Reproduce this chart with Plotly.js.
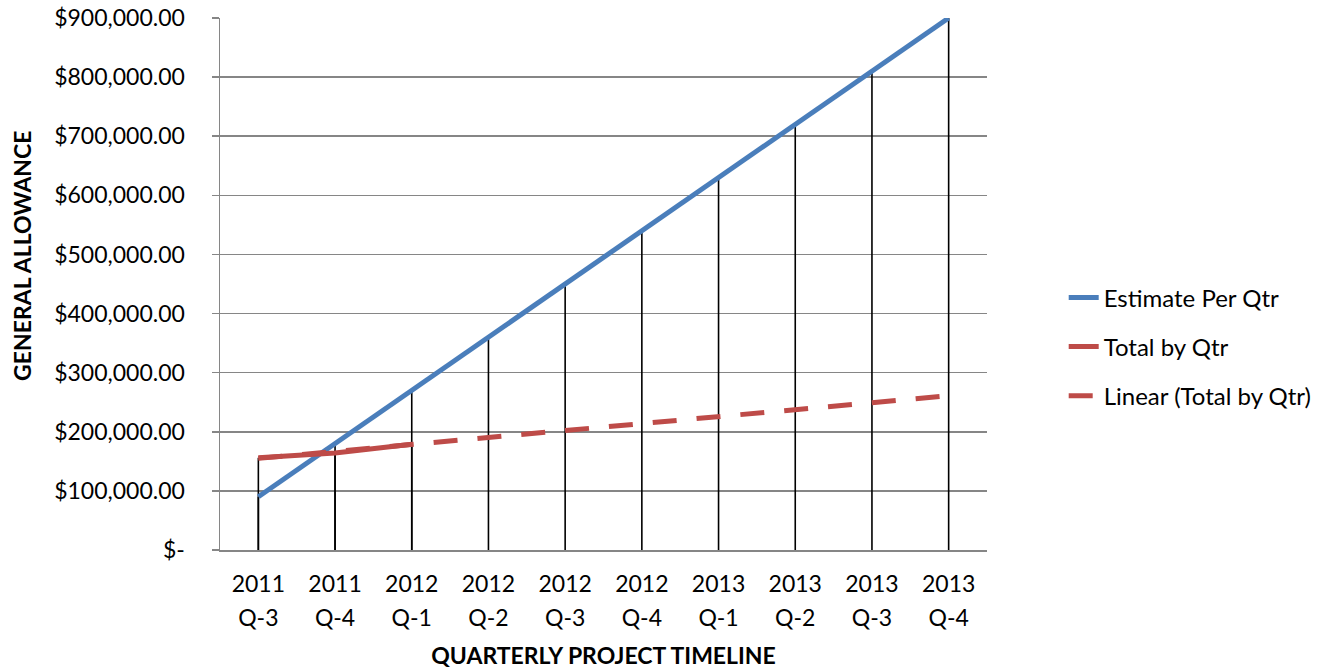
<!DOCTYPE html>
<html>
<head>
<meta charset="utf-8">
<script src="https://cdn.plot.ly/plotly-3.0.1.min.js"></script>
<style>html,body{margin:0;padding:0;background:#fff}#chart{width:1337px;height:671px}</style>
</head>
<body>
<div id="chart"></div>
<script>
// ---- data ----
var categories = ['2011 Q-3','2011 Q-4','2012 Q-1','2012 Q-2','2012 Q-3','2012 Q-4','2013 Q-1','2013 Q-2','2013 Q-3','2013 Q-4'];
var yearLabels = ['2011','2011','2012','2012','2012','2012','2013','2013','2013','2013'];
var quarterLabels = ['Q-3','Q-4','Q-1','Q-2','Q-3','Q-4','Q-1','Q-2','Q-3','Q-4'];
var estimatePerQtr = [90000,180000,270000,360000,450000,540000,630000,720000,810000,900000];
var totalCategories = ['2011 Q-3','2011 Q-4','2012 Q-1'];
var totalByQtr = [156000,164000,179000];
var trendCategories = ['2011 Q-3','2013 Q-4'];
var trendValues = [155000,261000];
var yTickVals = [0,100000,200000,300000,400000,500000,600000,700000,800000,900000];
var yTickText = ['$-','$100,000.00','$200,000.00','$300,000.00','$400,000.00','$500,000.00','$600,000.00','$700,000.00','$800,000.00','$900,000.00'];

var FONT = 'Lato, "Open Sans", sans-serif';
var zeros = function(a){ return a.map(function(){return 0;}); };

function dropTrace(xs, ys){
  return {
    x: xs, y: ys, xaxis:'x', yaxis:'y', type:'scatter', mode:'markers',
    marker:{size:1, opacity:0}, showlegend:false, hoverinfo:'skip',
    error_y:{type:'data', symmetric:false, array:zeros(ys), arrayminus:ys, width:0, color:'#000000', thickness:1.6}
  };
}

var traces = [
  dropTrace(categories, estimatePerQtr),
  dropTrace(totalCategories, totalByQtr),
  {
    x: categories, y: estimatePerQtr, xaxis:'x2', yaxis:'y', type:'scatter', mode:'lines',
    name:'Estimate Per Qtr', legendgroup:'a',
    line:{color:'#4A7EBB', width:5}
  },
  {
    x: totalCategories, y: totalByQtr, xaxis:'x2', yaxis:'y', type:'scatter', mode:'lines',
    name:'Total by Qtr', legendgroup:'b',
    line:{color:'#BE4B48', width:5}
  },
  {
    x: trendCategories, y: trendValues, xaxis:'x2', yaxis:'y', type:'scatter', mode:'lines',
    name:'Linear (Total by Qtr)', legendgroup:'c',
    line:{color:'#BE4B48', width:5, dash:'24px,20px'}
  }
];

var layout = {
  width:1337, height:671,
  margin:{l:220, r:350, t:18, b:121, autoexpand:false},
  paper_bgcolor:'#ffffff', plot_bgcolor:'#ffffff',
  font:{family:FONT, size:23, color:'#000000'},
  hovermode:false,
  showlegend:true,
  legend:{x:1.1, xanchor:'left', y:0.382, yanchor:'middle', traceorder:'grouped', tracegroupgap:15,
          font:{family:FONT, size:24, color:'#000'}, bgcolor:'rgba(0,0,0,0)'},
  xaxis:{
    type:'category', categoryorder:'array', categoryarray:categories,
    range:[-0.5, 9.5], tickmode:'array', tickvals:categories, ticktext:yearLabels,
    showgrid:false, zeroline:false, showline:true, linecolor:'#868686', linewidth:1.5,
    ticks:'', ticklabelstandoff:13, tickfont:{family:FONT, size:23, color:'#000'},
    title:{text:'QUARTERLY PROJECT TIMELINE', font:{family:FONT, size:23, color:'#000', weight:'bold'}, standoff:52},
    automargin:false, fixedrange:true
  },
  xaxis2:{
    type:'category', categoryorder:'array', categoryarray:categories,
    overlaying:'x', matches:'x', anchor:'y', side:'bottom',
    range:[-0.5, 9.5], tickmode:'array', tickvals:categories, ticktext:quarterLabels,
    showgrid:false, zeroline:false, showline:false, ticks:'', ticklabelstandoff:52,
    tickfont:{family:FONT, size:23, color:'#000'}, automargin:false, fixedrange:true
  },
  yaxis:{
    range:[0, 900000], tickmode:'array', tickvals:yTickVals, ticktext:yTickText,
    showgrid:true, gridcolor:'#868686', gridwidth:1.5, zeroline:false,
    showline:true, linecolor:'#868686', linewidth:1.5,
    ticks:'outside', ticklen:7, tickcolor:'#868686', tickwidth:1.5, ticklabelstandoff:22,
    tickfont:{family:FONT, size:23, color:'#000'}, automargin:false, fixedrange:true
  },
  annotations:[{
    text:'GENERAL ALLOWANCE', textangle:-90, xref:'paper', yref:'paper',
    x:-0.258, xanchor:'center', y:0.553, yanchor:'middle', showarrow:false,
    font:{family:FONT, size:23, color:'#000', weight:'bold'}
  }]
};

Plotly.newPlot('chart', traces, layout, {displayModeBar:false, staticPlot:true});
</script>
</body>
</html>
